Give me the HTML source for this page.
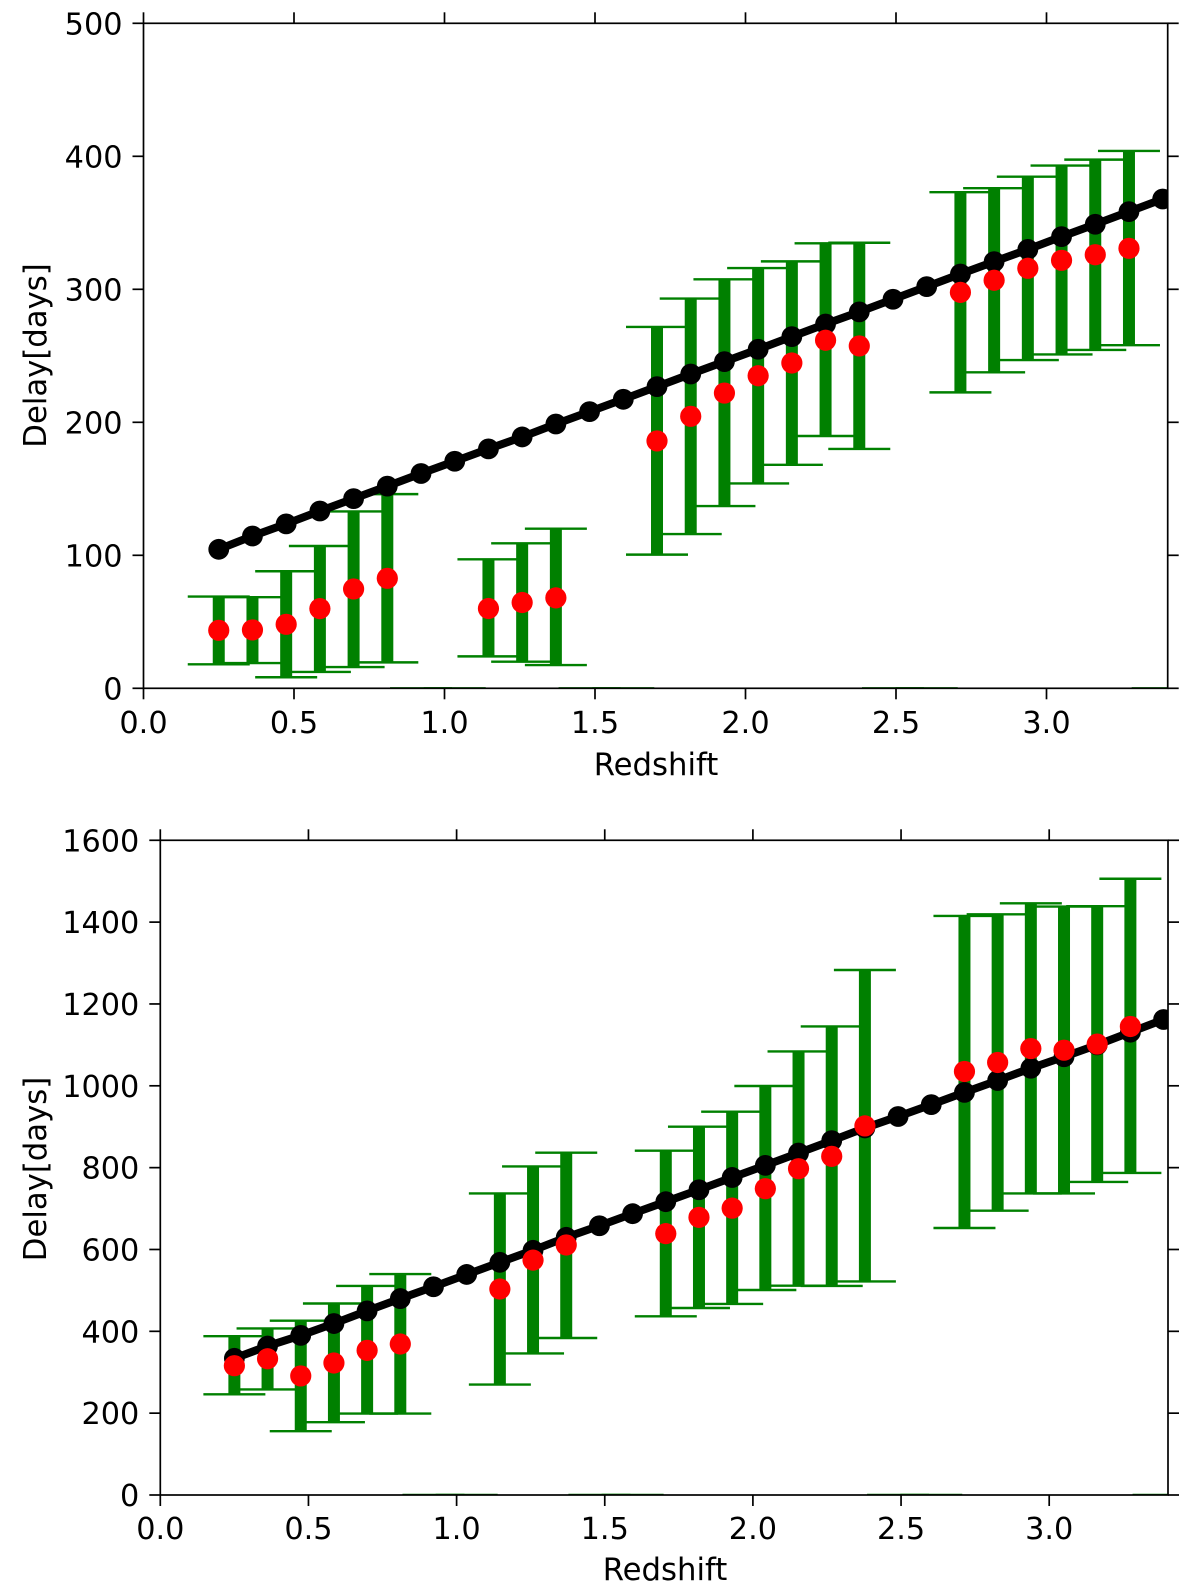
<!DOCTYPE html>
<html lang="en">
<head>
<meta charset="utf-8">
<title>Delay vs Redshift</title>
<style>
html,body{margin:0;padding:0;background:#fff;}
svg{display:block;}
text{font-family:"DejaVu Sans","Liberation Sans",sans-serif;font-size:30.3px;fill:#000;}
text.axis-title{font-size:30.7px;}
</style>
</head>
<body>
<svg id="chart" xmlns="http://www.w3.org/2000/svg" width="1200" height="1594" viewBox="0 0 1200 1594"></svg>
<script>
// Shared x values
const xTickLabels = ["0.0","0.5","1.0","1.5","2.0","2.5","3.0"];
const modelRedshift = [0.25,0.362,0.474,0.586,0.698,0.81,0.922,1.034,1.146,1.258,1.37,1.482,1.594,1.706,1.818,1.93,2.042,2.154,2.266,2.378,2.49,2.602,2.714,2.826,2.938,3.05,3.162,3.274,3.386];
const obsRedshift = [0.25,0.362,0.474,0.586,0.698,0.81,1.146,1.258,1.37,1.706,1.818,1.93,2.042,2.154,2.266,2.378,2.714,2.826,2.938,3.05,3.162,3.274];
const emptyRedshift = [0.922,1.034,1.482,1.594,2.49,2.602,3.386];

// Top panel
const topYTicks = [0,100,200,300,400,500];
const topModel = [104.5,114.5,123.6,133.3,142.6,152,161.5,170.7,180,189,198.7,208,217.3,226.8,236.3,245.6,254.9,264.4,273.9,283,292.5,302,311.5,320.8,330,339.6,348.9,358.4,367.9];
const topObs = [43.6,43.9,48.1,59.9,74.7,82.7,60,64.5,68,186,204.5,222,235,244.6,261.7,257.4,297.7,306.8,315.8,321.8,326,330.8];
const topUpper = [69,68.5,88,107,133,146,97,109,120,271.7,293,307.5,316,321,334.6,335,373,376,384.7,393,397.5,404];
const topLower = [18,19,8.3,12.3,16,19.5,24,20,17.5,100.5,116,137,154,168,189.7,180,222.5,237.6,246.8,251,254.4,258];

// Bottom panel
const botYTicks = [0,200,400,600,800,1000,1200,1400,1600];
const botModel = [334,364,390,419,450,480,509,539,568.6,598,629.7,658,687.5,716.8,746,776,805.6,835.8,866,897,925,954,984,1013,1043,1071,1100,1131,1162];
const botObs = [316,333,291,322.6,353.5,369,503.4,574,611,638.7,678.5,701,748.6,797.5,827.6,902,1035,1057,1091,1087,1102,1145];
const botUpper = [388,407,426,468,511,540,737,803,836.6,841.5,900,936.8,999.5,1084,1145,1283,1415,1419,1446,1438,1439,1506];
const botLower = [246,258,156,178,199,199,270,346,383.7,436.6,457,466.8,501,511.6,511,522,652.5,694.8,737,737,765,787];

const NS = "http://www.w3.org/2000/svg";
const svg = document.getElementById("chart");

function make(tag, props, parent){
  const el = document.createElementNS(NS, tag);
  for (const k in props) el.setAttribute(k, props[k]);
  parent.appendChild(el);
  return el;
}

function drawPanel(cfg){
  const sx = v => cfg.x0 + v * cfg.xPerUnit;
  const sy = v => cfg.y0 - v * cfg.yPerUnit;
  const right = cfg.right, top = sy(cfg.yMax), bottom = sy(0), left = sx(0);

  const panel = make("g", {}, svg);
  
  

  const clip = make("clipPath", {id: cfg.name + "-clip"}, panel);
  make("rect", {x:left, y:top, width:right-left, height:bottom-top}, clip);
  const plot = make("g", {"clip-path":"url(#" + cfg.name + "-clip)"}, panel);

  // Caps of points without measured errors (clipped to the axis)
  emptyRedshift.forEach(v => {
    const c = make("line", {x1:sx(v)-31, x2:sx(v)+31, y1:sy(0), y2:sy(0), stroke:"#008000", "stroke-width":2.4}, plot);
    
    
  });

  // Error bars
  obsRedshift.forEach((v, i) => {
    const g = make("g", {stroke:"#008000"}, plot);
    
    
    make("line", {x1:sx(v), x2:sx(v), y1:sy(cfg.upper[i]), y2:sy(cfg.lower[i]), "stroke-width":12}, g);
    make("line", {x1:sx(v)-31, x2:sx(v)+31, y1:sy(cfg.upper[i]), y2:sy(cfg.upper[i]), "stroke-width":2.4}, g);
    make("line", {x1:sx(v)-31, x2:sx(v)+31, y1:sy(cfg.lower[i]), y2:sy(cfg.lower[i]), "stroke-width":2.4}, g);
  });

  // Model line and points
  const pts = modelRedshift.map((v, i) => sx(v) + "," + sy(cfg.model[i])).join(" ");
  const line = make("polyline", {points:pts, fill:"none", stroke:"#000", "stroke-width":8}, plot);
  
  
  modelRedshift.forEach((v, i) => {
    const c = make("circle", {cx:sx(v), cy:sy(cfg.model[i]), r:10.4, fill:"#000"}, plot);
    
    
  });

  // Observed points
  obsRedshift.forEach((v, i) => {
    const c = make("circle", {cx:sx(v), cy:sy(cfg.obs[i]), r:10.6, fill:"#ff0000"}, plot);
    
    
  });

  // Frame
  const frame = make("rect", {x:left, y:top, width:right-left, height:bottom-top, fill:"none", stroke:"#000", "stroke-width":1.7}, panel);
  
  

  // X ticks
  xTickLabels.forEach(lab => {
    const x = sx(parseFloat(lab));
    make("line", {x1:x, x2:x, y1:bottom, y2:bottom+11, stroke:"#000", "stroke-width":1.7}, panel);
    make("line", {x1:x, x2:x, y1:top, y2:top-11, stroke:"#000", "stroke-width":1.7}, panel);
    const t = make("text", {x:x, y:bottom+cfg.xLabelDy, "text-anchor":"middle"}, panel);
    t.textContent = lab;
    
    
  });

  // Y ticks
  cfg.yTicks.forEach(v => {
    const y = sy(v);
    make("line", {x1:left-11, x2:left, y1:y, y2:y, stroke:"#000", "stroke-width":1.7}, panel);
    make("line", {x1:right, x2:right+11, y1:y, y2:y, stroke:"#000", "stroke-width":1.7}, panel);
    const t = make("text", {x:left-21, y:y+11, "text-anchor":"end"}, panel);
    t.textContent = String(v);
    
    
  });

  // Axis titles
  const xt = make("text", {x:cfg.xTitleX, y:cfg.xTitleY, "text-anchor":"middle", "class":"axis-title"}, panel);
  xt.textContent = "Redshift";
  
  

  const yt = make("text", {x:0, y:0, "text-anchor":"middle", "class":"axis-title", transform:"translate(46 " + cfg.yTitleY + ") rotate(-90)"}, panel);
  yt.textContent = "Delay[days]";
  
  
}

drawPanel({name:"top", x0:143.5, xPerUnit:301, y0:688.3, yPerUnit:1.33, yMax:500, right:1167.7,
  yTicks:topYTicks, model:topModel, obs:topObs, upper:topUpper, lower:topLower,
  xLabelDy:44.5, xTitleX:656, xTitleY:775, yTitleY:355.5});
drawPanel({name:"bottom", x0:160.3, xPerUnit:296.3, y0:1495, yPerUnit:0.4092, yMax:1600, right:1168,
  yTicks:botYTicks, model:botModel, obs:botObs, upper:botUpper, lower:botLower,
  xLabelDy:44, xTitleX:665, xTitleY:1580, yTitleY:1169});
</script>
</body>
</html>
